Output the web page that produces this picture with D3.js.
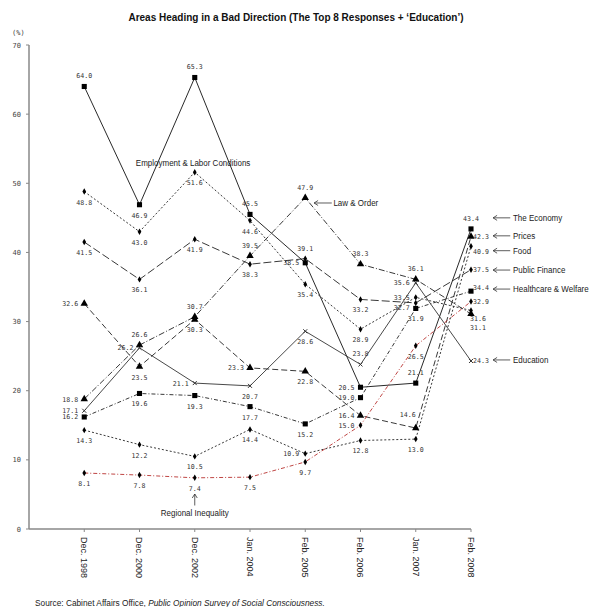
<!DOCTYPE html>
<html><head><meta charset="utf-8">
<script src="https://cdn.jsdelivr.net/npm/d3@7"></script>
<style>body{margin:0;background:#fff}svg{display:block}</style>
</head><body><svg id="c" width="592" height="607"></svg>
<script>
// ---- data ----
const dates = ["Dec. 1998","Dec. 2000","Dec. 2002","Jan. 2004","Feb. 2005","Feb. 2006","Jan. 2007","Feb. 2008"];
const yTicks = [0,10,20,30,40,50,60,70];
const economy      = [64.0,46.9,65.3,45.5,38.5,20.5,21.1,43.4];
const employment   = [48.8,43.0,51.6,44.6,35.4,28.9,33.5,31.6];
const publicFinance= [41.5,36.1,41.9,38.3,39.1,33.2,32.7,37.5];
const lawOrder     = [18.8,26.6,30.7,39.5,47.9,38.3,36.1,31.1];
const prices       = [32.6,23.5,30.3,23.3,22.8,16.4,14.6,42.3];
const education    = [17.1,26.2,21.1,20.7,28.6,23.8,35.6,24.3];
const healthcare   = [16.2,19.6,19.3,17.7,15.2,19.0,31.9,34.4];
const food         = [14.3,12.2,10.5,14.4,10.9,12.8,13.0,40.9];
const regional     = [8.1,7.8,7.4,7.5,9.7,15.0,26.5,32.9];

// ---- layout / style config ----
const series = [
  {name:"The Economy", v:economy, sym:"square", dash:null, col:"#111",
   lab:["a","b","a","a","l","l","a","a"]},
  {name:"Employment & Labor Conditions", v:employment, sym:"diamond", dash:"2,2", col:"#222",
   lab:["b","b","b","b","b","b","l","rb"]},
  {name:"Public Finance", v:publicFinance, sym:"diamond", dash:"8,3", col:"#222",
   lab:["b","b","b","b","a","b","ld","r"]},
  {name:"Law & Order", v:lawOrder, sym:"triangle", dash:"6,2,1,2", col:"#222",
   lab:["l","a","a","a","a","a","a","rbb"]},
  {name:"Prices", v:prices, sym:"triangle", dash:"6,3", col:"#222",
   lab:["l","b","b","l","b","l","al","r"]},
  {name:"Education", v:education, sym:"x", dash:null, col:"#333",
   lab:["l","l","l","b","b","a","l","r"]},
  {name:"Healthcare & Welfare", v:healthcare, sym:"square", dash:"4,2,1,2", col:"#222",
   lab:["l","b","b","b","b","l","b","ru"]},
  {name:"Food", v:food, sym:"diamond", dash:"2,2", col:"#222",
   lab:["b","b","b","b","l","b","b","rd"]},
  {name:"Regional Inequality", v:regional, sym:"diamond", dash:"4,2,1,2", col:"#b8312f",
   lab:["b","b","b","b","b","l","b","r"]}
];
const labPos = {
  a:  {a:"middle", dx:0,  dy:-8},
  b:  {a:"middle", dx:0,  dy:13},
  l:  {a:"end",    dx:-6, dy:2.5},
  ld: {a:"end",    dx:-6, dy:7.5},
  r:  {a:"start",  dx:2,  dy:2.5},
  ru: {a:"start",  dx:2,  dy:-1},
  rd: {a:"start",  dx:2,  dy:8},
  rb: {a:"start",  dx:-1, dy:10},
  rbb:{a:"start",  dx:-1, dy:16},
  al: {a:"end",    dx:0,  dy:-11}
};
// right-side annotations: [label, value-level]
const rightNames = ["The Economy","Prices","Food","Public Finance","Healthcare & Welfare","Education"];
const rightLevels = [45.0,42.4,40.25,37.45,34.7,24.45];

const svg = d3.select("#c");
const x = d3.scaleLinear().domain([-1,7]).range([29,471]);
const y = d3.scaleLinear().domain([0,70]).range([529,45]);
const af = "Liberation Sans, Arial, sans-serif";

// compressed annotation text
function nameText(xx, yy, txt, anchor){
  svg.append("text").attr("transform",`translate(${xx},${yy}) scale(0.86,1)`)
    .attr("text-anchor",anchor||"start").attr("font-family",af)
    .attr("font-size",9.3).attr("fill","#222").text(txt);
}

// title
svg.append("text").attr("x",296).attr("y",21).attr("text-anchor","middle")
  .attr("font-family",af).attr("font-weight","bold")
  .attr("font-size",10).attr("fill","#111")
  .text("Areas Heading in a Bad Direction (The Top 8 Responses + \u2018Education\u2019)");
svg.append("text").attr("x",12).attr("y",35).attr("font-family","DejaVu Sans Mono, monospace")
  .attr("font-size",7).attr("fill","#444").text("(%)");

// y axis
const ya = svg.append("g");
ya.append("line").attr("x1",x(-1)).attr("x2",x(-1)).attr("y1",y(70)).attr("y2",y(0))
  .attr("stroke","#888").attr("stroke-width",1.5);
ya.selectAll("line.t").data(yTicks).join("line").attr("class","t")
  .attr("x1",x(-1)-3).attr("x2",x(-1)).attr("y1",d=>y(d)).attr("y2",d=>y(d))
  .attr("stroke","#888");
ya.selectAll("text").data(yTicks).join("text")
  .attr("x",x(-1)-8).attr("y",d=>y(d)+2.5).attr("text-anchor","end")
  .attr("font-family","DejaVu Sans Mono, monospace").attr("font-size",7).attr("fill","#444")
  .text(d=>d);

// x axis
const xa = svg.append("g");
xa.append("line").attr("x1",x(-1)).attr("x2",x(7)).attr("y1",y(0)).attr("y2",y(0))
  .attr("stroke","#888").attr("stroke-width",1.5);
xa.selectAll("line.t").data(dates).join("line").attr("class","t")
  .attr("x1",(d,i)=>x(i)).attr("x2",(d,i)=>x(i)).attr("y1",y(0)).attr("y2",y(0)+3)
  .attr("stroke","#888");
xa.selectAll("text").data(dates).join("text")
  .attr("transform",(d,i)=>`translate(${x(i)},${y(0)+8}) rotate(90)`)
  .attr("dy","0.35em").attr("text-anchor","start")
  .attr("font-family",af).attr("font-size",9).attr("fill","#222")
  .text(d=>d);

// lines
const line = d3.line().x((d,i)=>x(i)).y(d=>y(d));
const symMap = {square:d3.symbolSquare, diamond:d3.symbolDiamond, triangle:d3.symbolTriangle, x:d3.symbolX};
const symSize = {square:26, diamond:12, triangle:24, x:12};
series.forEach(s=>{
  const g = svg.append("g");
  g.append("path").attr("d",line(s.v)).attr("fill","none").attr("stroke",s.col)
    .attr("stroke-width",0.9).attr("stroke-dasharray",s.dash);
  g.selectAll("path.m").data(s.v).join("path").attr("class","m")
    .attr("transform",(d,i)=>`translate(${x(i)},${y(d)})`)
    .attr("d",d3.symbol().type(symMap[s.sym]).size(symSize[s.sym]))
    .attr("fill",s.sym==="x"?"none":"#000").attr("stroke",s.sym==="x"?"#333":"none");
  g.selectAll("text").data(s.v).join("text")
    .attr("x",(d,i)=>x(i)+labPos[s.lab[i]].dx).attr("y",(d,i)=>y(d)+labPos[s.lab[i]].dy)
    .attr("text-anchor",(d,i)=>labPos[s.lab[i]].a)
    .attr("font-family","DejaVu Sans Mono, monospace").attr("font-size",6.6).attr("fill","#333")
    .text(d=>d.toFixed(1));
});

// annotations
function arrowLeft(x1,x2,yy){ // tip at x1
  svg.append("path").attr("d",`M${x1},${yy}H${x2}M${x1+4},${yy-2.5}L${x1},${yy}L${x1+4},${yy+2.5}`)
    .attr("fill","none").attr("stroke","#333").attr("stroke-width",0.8);
}
rightNames.forEach((n,i)=>{
  const yy = y(rightLevels[i]);
  arrowLeft(x(7.4), x(7.71), yy);
  nameText(x(7.76), yy+3.3, n);
});
// Law & Order
{
  const yy = y(47.15);
  arrowLeft(x(4.16), x(4.48), yy);
  nameText(x(4.51), yy+3.3, "Law & Order");
}
// Employment label
nameText(x(1.97), y(53)+3.3, "Employment & Labor Conditions", "middle");
// Regional Inequality
{
  const xx = x(2);
  svg.append("path").attr("d",`M${xx},${y(5.06)}V${y(3.4)}M${xx-2.5},${y(5.06)+4}L${xx},${y(5.06)}L${xx+2.5},${y(5.06)+4}`)
    .attr("fill","none").attr("stroke","#333").attr("stroke-width",0.8);
  nameText(xx, y(1.88), "Regional Inequality", "middle");
}
// source
const src = svg.append("text").attr("x",35).attr("y",606).attr("font-family",af)
  .attr("font-size",8.3).attr("fill","#222");
src.append("tspan").text("Source: Cabinet Affairs Office, ");
src.append("tspan").attr("font-style","italic").text("Public Opinion Survey of Social Consciousness.");
</script></body></html>
